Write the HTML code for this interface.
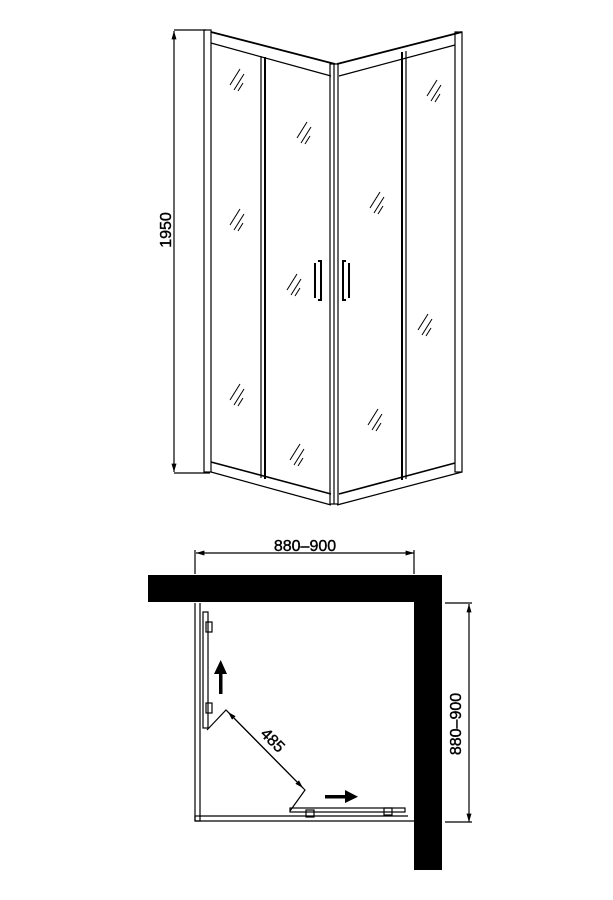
<!DOCTYPE html>
<html><head><style>html,body{margin:0;padding:0;background:#fff}svg{display:block}</style></head>
<body>
<svg width="613" height="900" viewBox="0 0 613 900" xmlns="http://www.w3.org/2000/svg" font-family="Liberation Sans, sans-serif">
<defs>
<marker id="a" viewBox="0 0 10 10" refX="10" refY="5" markerWidth="7" markerHeight="7" orient="auto-start-reverse"><path d="M0,2 L10,5 L0,8 z" fill="#000"/></marker>
</defs>
<g stroke="#000" fill="none" stroke-width="1.2">
<line x1="174" y1="31" x2="174" y2="472" marker-start="url(#a)" marker-end="url(#a)"/>
<line x1="174" y1="30" x2="206" y2="30"/>
<line x1="174" y1="473" x2="210" y2="473"/>
<rect x="204" y="30" width="7" height="442"/>
<line x1="211" y1="32" x2="335" y2="64" stroke-width="1.8"/>
<line x1="211" y1="43" x2="331" y2="76"/>
<line x1="211" y1="462" x2="331" y2="494" stroke-width="1.6"/>
<line x1="211" y1="472" x2="331" y2="505"/>
<rect x="455" y="32" width="7" height="440"/>
<line x1="337" y1="64" x2="462" y2="32" stroke-width="1.8"/>
<line x1="339" y1="76" x2="455" y2="45"/>
<line x1="339" y1="494" x2="455" y2="463" stroke-width="1.6"/>
<line x1="337" y1="505" x2="462" y2="472"/>
<rect x="330" y="64" width="8" height="440"/>
<line x1="334" y1="64" x2="334" y2="504"/>
<line x1="261" y1="56" x2="261" y2="478"/><line x1="265" y1="57" x2="265" y2="479" stroke-width="2"/>
<line x1="402" y1="52" x2="402" y2="480" stroke-width="2"/><line x1="406" y1="51" x2="406" y2="479"/>
<path d="M318,261 h3 v39 h-3 M315,263 v35" stroke-width="2"/>
<path d="M346,261 h-3 v39 h3 M349,263 v35" stroke-width="2"/>
<g stroke-width="1">
<path d="M230,85 l10,-16 M234,90 l10,-16 M238,91 l5,-8"/>
<path d="M230,225 l10,-16 M234,230 l10,-16 M238,231 l5,-8"/>
<path d="M230,400 l10,-16 M234,405 l10,-16 M238,406 l5,-8"/>
<path d="M297,138 l10,-16 M301,143 l10,-16 M305,144 l5,-8"/>
<path d="M287,290 l10,-16 M291,295 l10,-16 M295,296 l5,-8"/>
<path d="M290,460 l10,-16 M294,465 l10,-16 M298,466 l5,-8"/>
<path d="M370,208 l10,-16 M374,213 l10,-16 M378,214 l5,-8"/>
<path d="M368,425 l10,-16 M372,430 l10,-16 M376,431 l5,-8"/>
<path d="M427,96 l10,-16 M431,101 l10,-16 M435,102 l5,-8"/>
<path d="M418,330 l10,-16 M422,335 l10,-16 M426,336 l5,-8"/>
</g>
<line x1="196" y1="553" x2="414" y2="553" marker-start="url(#a)" marker-end="url(#a)"/>
<line x1="195" y1="550" x2="195" y2="574"/><line x1="414" y1="550" x2="414" y2="574"/>
<line x1="469" y1="604" x2="469" y2="822" marker-start="url(#a)" marker-end="url(#a)"/>
<line x1="445" y1="603" x2="472" y2="603"/><line x1="445" y1="822" x2="472" y2="822"/>
<line x1="195" y1="603" x2="195" y2="821"/><line x1="200" y1="603" x2="200" y2="817"/>
<line x1="195" y1="821" x2="414" y2="821"/><line x1="200" y1="816" x2="408" y2="816"/>
<rect x="195" y="816" width="5" height="5"/>
<rect x="203" y="612" width="5" height="116"/>
<rect x="290" y="808" width="115" height="4"/>
<rect x="206" y="622" width="6" height="10"/><rect x="206" y="703" width="6" height="10"/>
<rect x="306" y="810" width="8" height="7"/><rect x="384" y="808" width="8" height="7"/>
<path d="M207,730 L226,710 L305,790 L290,811" />
<line x1="228" y1="712" x2="303" y2="788" marker-start="url(#a)" marker-end="url(#a)"/>
</g>
<rect x="148" y="575" width="294" height="27" fill="#000"/>
<rect x="414" y="575" width="28" height="295" fill="#000"/>
<rect x="219" y="672" width="3.5" height="22" fill="#000"/>
<path d="M214,674 L220.7,660 L227,674 z" fill="#000"/>
<rect x="325" y="795" width="22" height="3.5" fill="#000"/>
<path d="M345,790 L358,796.7 L345,803 z" fill="#000"/>
<g font-size="16" stroke="#000" stroke-width="0.4">
<text x="0" y="0" transform="translate(171,230) rotate(-90)" text-anchor="middle">1950</text>
<text x="305" y="551" text-anchor="middle">880–900</text>
<text x="0" y="0" transform="translate(461,724) rotate(-90)" text-anchor="middle">880–900</text>
<text x="0" y="0" transform="translate(269,744) rotate(45)" text-anchor="middle">485</text>
</g>
</svg>
</body></html>
